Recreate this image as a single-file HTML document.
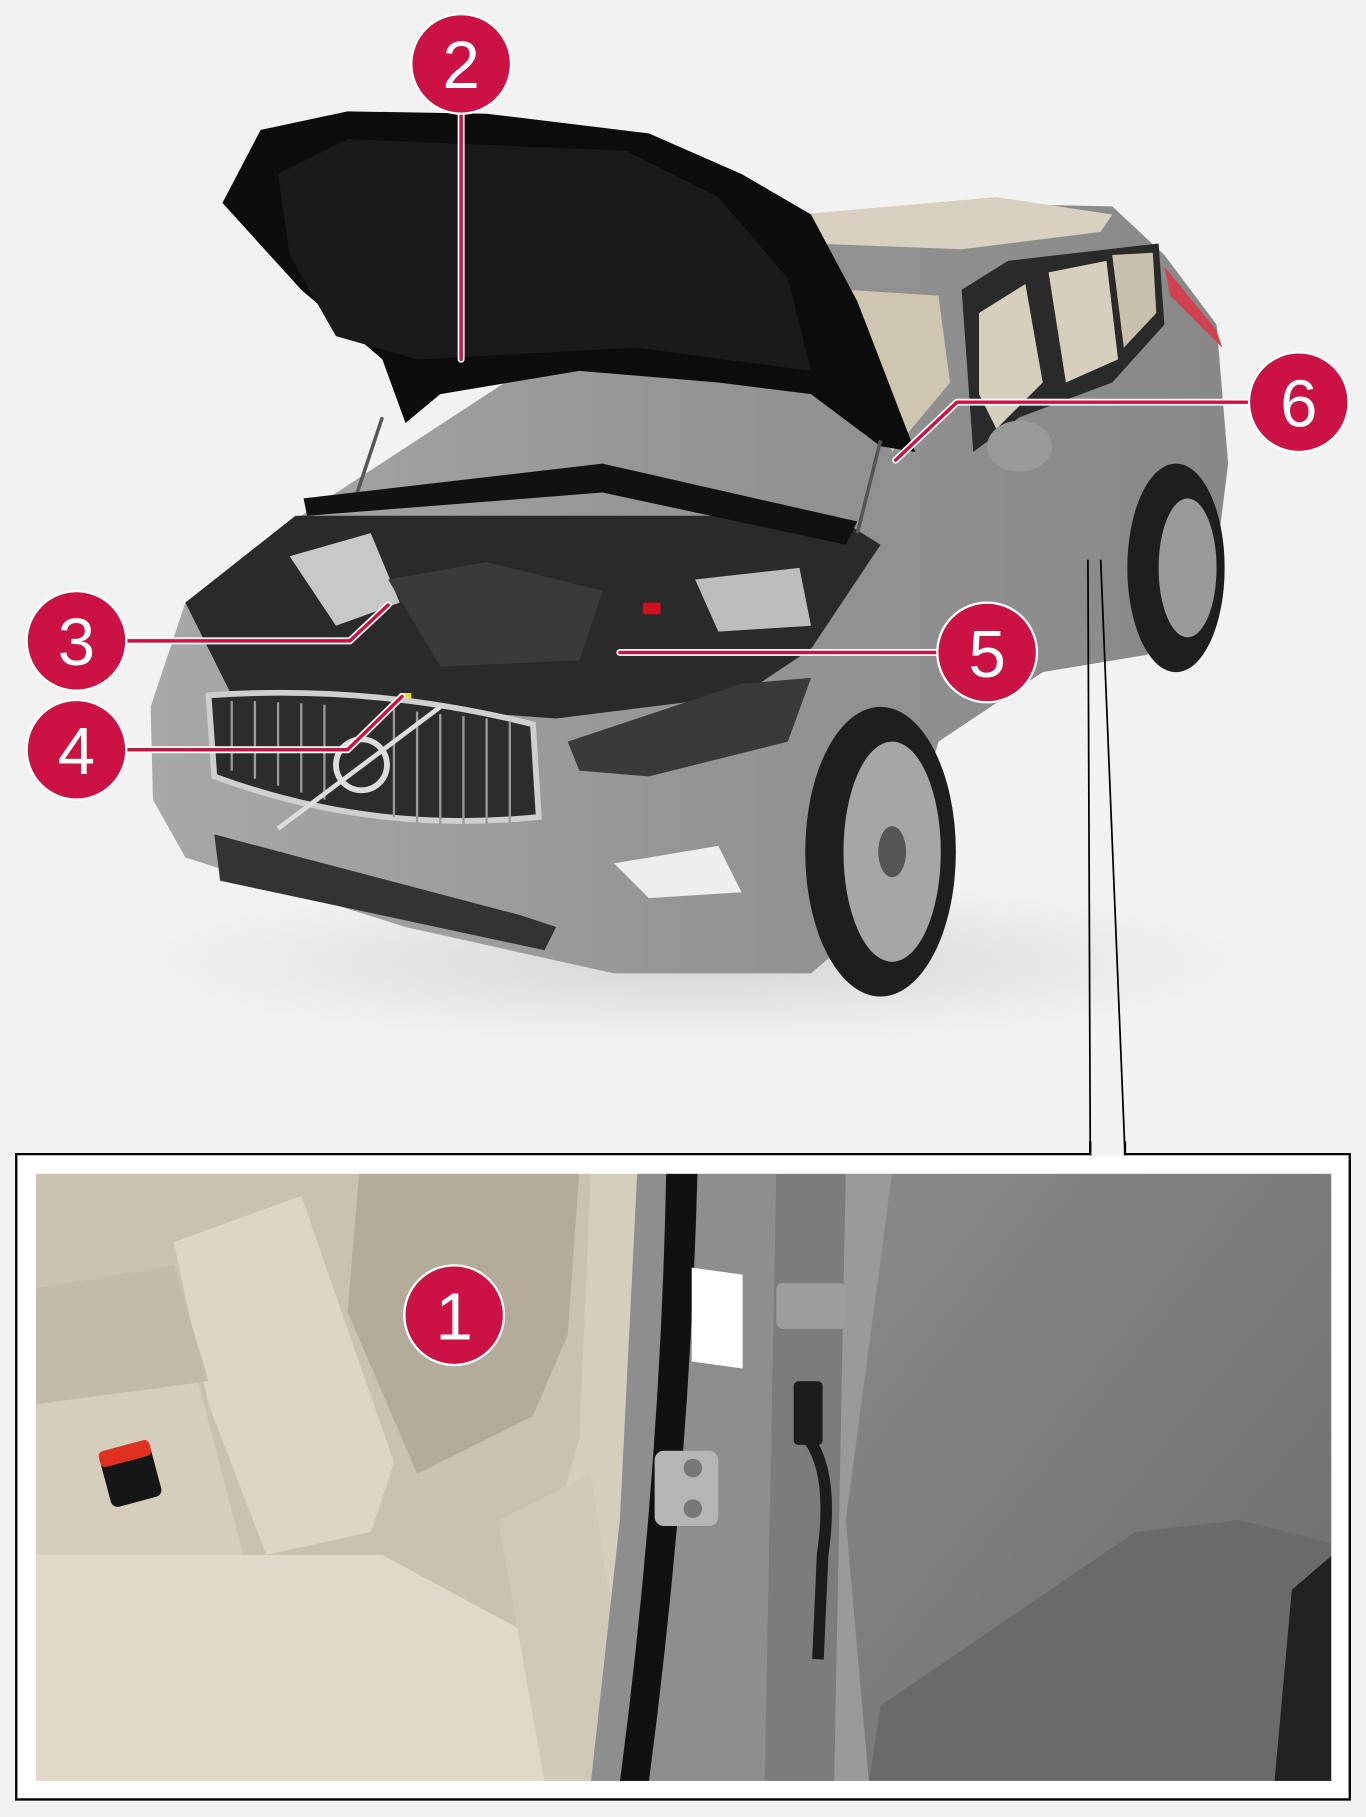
<!DOCTYPE html>
<html><head><meta charset="utf-8"><style>
html,body{margin:0;padding:0;background:#f2f2f2;}
svg{display:block;}
text{font-family:"Liberation Sans",sans-serif;fill:#fff;text-anchor:middle;}
</style></head><body>
<svg width="1366" height="1817" viewBox="0 0 1179 1568" xmlns="http://www.w3.org/2000/svg">
<defs>
<linearGradient id="door" x1="0" y1="0" x2="1" y2="1"><stop offset="0" stop-color="#8a8a8a"/><stop offset="1" stop-color="#6c6c6c"/></linearGradient>
<linearGradient id="body" x1="0" y1="0" x2="1" y2="0"><stop offset="0" stop-color="#a8a8a8"/><stop offset="0.5" stop-color="#959595"/><stop offset="1" stop-color="#888"/></linearGradient>
<radialGradient id="sh" cx="0.5" cy="0.5" r="0.5"><stop offset="0" stop-color="#d6d6d6"/><stop offset="1" stop-color="#f2f2f2"/></radialGradient>
</defs>
<rect width="1179" height="1568" fill="#f2f2f2"/>
<ellipse cx="600" cy="830" rx="480" ry="70" fill="url(#sh)"/>
<polygon fill="url(#body)" points="130,610 160,520 260,445 650,190 820,175 960,178 1005,220 1050,280 1060,400 1045,520 990,565 900,580 810,640 770,780 700,840 620,840 530,840 350,800 160,740 132,690"/>
<polygon fill="#d8d0c0" points="690,185 860,170 960,185 950,200 830,215 700,210"/>
<polygon fill="#cfc6b2" points="730,250 810,255 820,330 770,390 740,300"/>
<polygon fill="#2a2a2a" points="830,250 870,225 1000,210 1005,280 960,330 880,360 840,390"/>
<polygon fill="#d7cfbd" points="845,270 885,245 900,330 860,370 845,340"/>
<polygon fill="#d7cfbd" points="905,235 955,225 965,310 920,330"/>
<polygon fill="#c9c1ae" points="960,220 995,218 998,270 970,300"/>
<polygon fill="#d04050" points="1005,230 1050,285 1055,300 1045,290 1010,255"/>
<ellipse cx="880" cy="385" rx="28" ry="22" fill="#9a9a9a"/>
<ellipse cx="1015" cy="490" rx="42" ry="90" fill="#1e1e1e"/>
<ellipse cx="1025" cy="490" rx="25" ry="60" fill="#9a9a9a"/>
<ellipse cx="760" cy="735" rx="65" ry="125" fill="#1e1e1e"/>
<ellipse cx="770" cy="735" rx="42" ry="95" fill="#a6a6a6"/>
<ellipse cx="770" cy="735" rx="12" ry="22" fill="#555"/>
<polygon fill="#2a2a2a" points="160,520 255,445 720,445 760,470 700,560 640,600 480,620 200,600"/>
<polygon fill="#c8c8c8" points="250,480 320,460 345,520 290,540"/>
<polygon fill="#3a3a3a" points="335,500 420,485 520,510 500,570 380,575"/>
<polygon fill="#bdbdbd" points="600,500 690,490 700,540 620,545"/>
<rect x="555" y="520" width="15" height="10" fill="#d01020"/>
<rect x="345" y="598" width="10" height="8" fill="#e8e020"/>
<path d="M180,600 Q320,590 460,625 L465,705 Q320,720 185,670 Z" fill="#2c2c2c" stroke="#cfcfcf" stroke-width="5"/>
<g stroke="#9a9a9a" stroke-width="2">
<line x1="200" y1="605" x2="200" y2="665"/><line x1="220" y1="605" x2="220" y2="672"/><line x1="240" y1="606" x2="240" y2="678"/><line x1="260" y1="607" x2="260" y2="684"/><line x1="280" y1="608" x2="280" y2="690"/><line x1="340" y1="612" x2="340" y2="705"/><line x1="360" y1="614" x2="360" y2="710"/><line x1="380" y1="616" x2="380" y2="712"/><line x1="400" y1="618" x2="400" y2="713"/><line x1="420" y1="620" x2="420" y2="712"/><line x1="440" y1="622" x2="440" y2="710"/>
</g>
<circle cx="312" cy="660" r="22" fill="none" stroke="#ddd" stroke-width="5"/>
<line x1="240" y1="715" x2="380" y2="610" stroke="#ddd" stroke-width="4"/>
<polygon fill="#3a3a3a" points="490,640 640,590 700,585 680,640 560,670 500,665"/>
<polygon fill="#333" points="185,720 260,740 450,790 480,800 470,820 190,760"/>
<polygon fill="#eee" points="530,745 620,730 640,770 560,775"/>
<polygon fill="#0c0c0c" points="192,175 225,112 300,96 420,98 560,115 640,150 700,185 740,260 790,390 760,385 700,340 620,330 500,320 380,340 350,365 330,310 260,250"/>
<polygon fill="#1a1a1a" points="240,150 300,120 540,130 620,170 680,240 700,320 550,300 360,310 290,290 250,220"/>
<line x1="330" y1="360" x2="305" y2="435" stroke="#555" stroke-width="3"/>
<line x1="760" y1="380" x2="740" y2="460" stroke="#555" stroke-width="3"/>
<polygon fill="#111" points="262,430 520,400 740,450 730,470 520,425 265,445"/>

<g fill="none" stroke-linecap="round" stroke-linejoin="round">
<g stroke="#fff" stroke-width="6">
<polyline points="398,95 398,310"/>
<polyline points="1080,347 826,347 773,397"/>
<polyline points="105,553 302,553 335,522"/>
<polyline points="105,647 300,647 347,601"/>
<polyline points="810,563 535,563"/>
<polyline points="430,1135 625,1135"/>
</g>
<g stroke="#cc1144" stroke-width="3">
<polyline points="398,95 398,310"/>
<polyline points="1080,347 826,347 773,397"/>
<polyline points="105,553 302,553 335,522"/>
<polyline points="105,647 300,647 347,601"/>
<polyline points="810,563 535,563"/>
<polyline points="430,1135 625,1135"/>
</g>
</g>

<line x1="939" y1="483" x2="941" y2="996" stroke="#000" stroke-width="1.5"/>
<line x1="950" y1="483" x2="971" y2="996" stroke="#000" stroke-width="1.5"/>
<rect x="14" y="996" width="1151" height="557" fill="#fff"/>
<polyline points="941,996 14,996 14,1553 1165,1553 1165,996 971,996" fill="none" stroke="#000" stroke-width="2"/>
<rect x="941" y="994" width="30" height="4" fill="#f2f2f2"/>
<line x1="941" y1="985" x2="941" y2="997" stroke="#000" stroke-width="2"/>
<line x1="971" y1="985" x2="971" y2="997" stroke="#000" stroke-width="2"/>

<svg x="30" y="1012" width="1120" height="526" viewBox="0 0 1120 526" preserveAspectRatio="none">
<rect width="1120" height="526" fill="#d5cebd"/>
<polygon fill="#c9c2b0" points="0,0 480,0 470,230 420,400 300,430 180,330 120,100 0,120"/>
<polygon fill="#b3ac9b" points="280,0 470,0 460,140 430,210 330,260 270,120"/>
<polygon fill="#ddd6c6" points="120,60 230,20 310,250 290,310 200,330 150,200"/>
<polygon fill="#c2bba9" points="0,100 120,80 150,180 0,200"/>
<polygon fill="#e0d9c9" points="0,330 300,330 430,400 470,526 0,526"/>
<polygon fill="#d0c9b8" points="400,300 480,260 520,526 440,526"/>
<rect x="60" y="235" width="45" height="50" rx="6" fill="#161616" transform="rotate(-15 82 260)"/>
<rect x="60" y="235" width="45" height="14" rx="4" fill="#e03020" transform="rotate(-15 82 260)"/>
<polygon fill="#8e8e8e" points="520,0 740,0 740,526 480,526 505,300"/>
<path d="M545,0 Q540,260 505,526 L530,526 Q565,260 572,0 Z" fill="#111"/>
<polygon fill="#7c7c7c" points="640,0 700,0 690,526 630,526"/>
<polygon fill="#9a9a9a" points="700,0 740,0 730,526 690,526"/>
<polygon fill="url(#door)" points="740,0 1120,0 1120,526 720,526 700,300"/>
<polygon fill="#6a6a6a" points="730,460 950,310 1040,300 1120,320 1120,526 720,526"/>
<polygon fill="#222" points="1085,360 1120,330 1120,526 1070,526"/>
<polygon fill="#ffffff" points="567,82 611,88 611,169 567,163"/>
<rect x="640" y="95" width="60" height="40" rx="6" fill="#9c9c9c"/>
<rect x="655" y="180" width="25" height="55" rx="4" fill="#1c1c1c"/>
<path d="M668,230 Q690,260 680,330 L676,420" stroke="#1c1c1c" stroke-width="10" fill="none"/>
<rect x="535" y="240" width="55" height="65" rx="8" fill="#b5b5b5"/>
<circle cx="568" cy="255" r="8" fill="#777"/><circle cx="568" cy="290" r="8" fill="#777"/>
</svg>
<rect x="30" y="1012" width="1120" height="526" fill="none" stroke="#fff" stroke-width="2"/>

<g fill="#cc1144" stroke="#fff" stroke-width="2">
<circle cx="398" cy="55" r="43"/>
<circle cx="1121" cy="347" r="43"/>
<circle cx="66" cy="553" r="43"/>
<circle cx="66" cy="647" r="43"/>
<circle cx="852" cy="563" r="43"/>
<circle cx="392" cy="1135" r="43"/>
</g>
<g font-size="58">
<text x="398" y="76">2</text>
<text x="1121" y="368">6</text>
<text x="66" y="574">3</text>
<text x="66" y="668">4</text>
<text x="852" y="584">5</text>
<text x="392" y="1156">1</text>
</g>
</svg>
</body></html>
